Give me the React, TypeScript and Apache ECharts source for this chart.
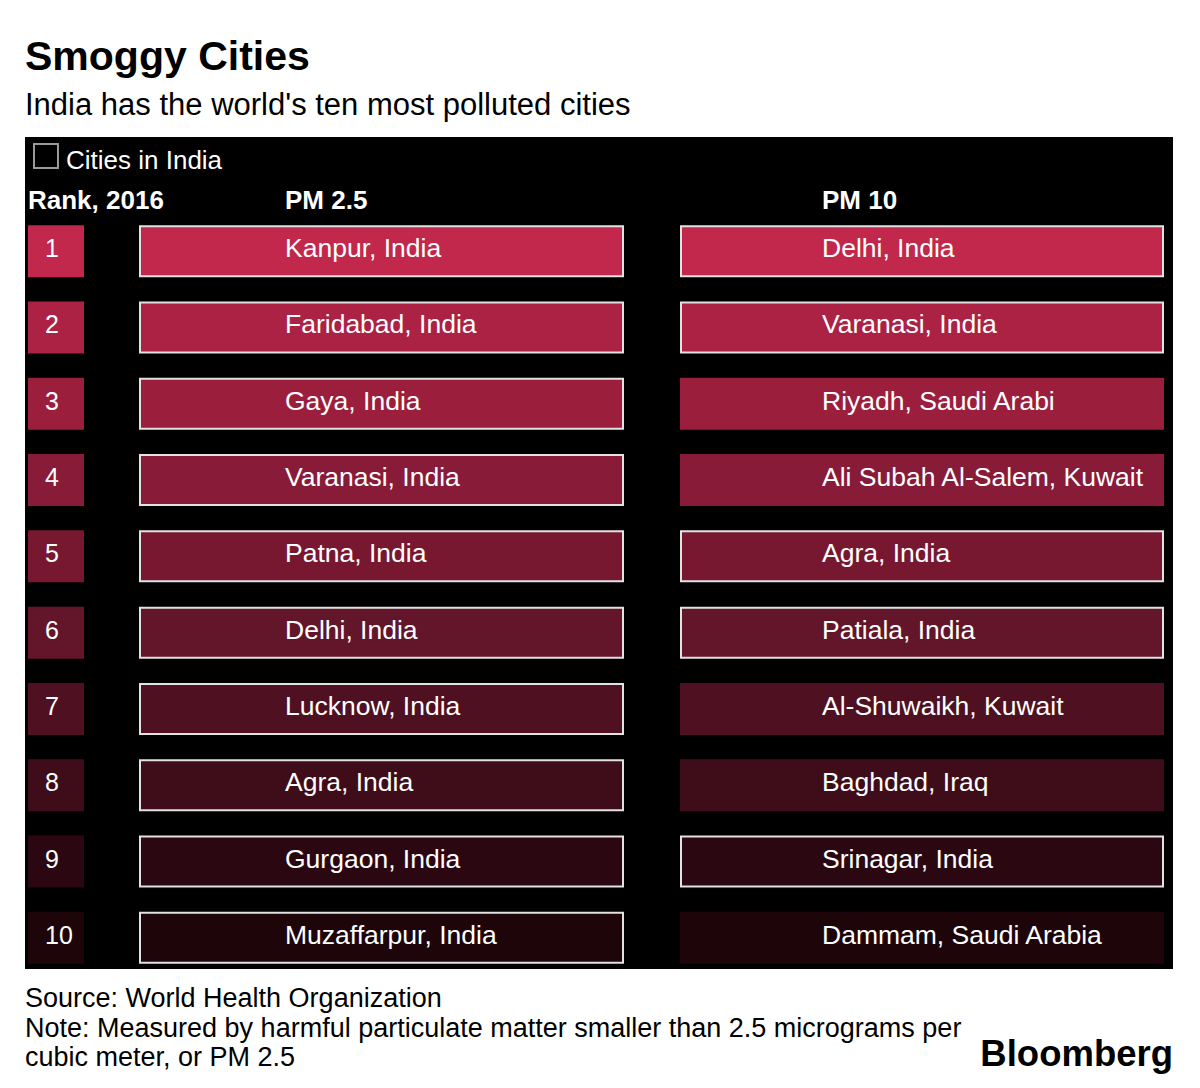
import React, { useEffect, useRef } from "react";
import * as echarts from "echarts";

const ranks = ["1", "2", "3", "4", "5", "6", "7", "8", "9", "10"];
const pm25Cities = [
  "Kanpur, India",
  "Faridabad, India",
  "Gaya, India",
  "Varanasi, India",
  "Patna, India",
  "Delhi, India",
  "Lucknow, India",
  "Agra, India",
  "Gurgaon, India",
  "Muzaffarpur, India",
];
const pm25InIndia = [true, true, true, true, true, true, true, true, true, true];
const pm10Cities = [
  "Delhi, India",
  "Varanasi, India",
  "Riyadh, Saudi Arabi",
  "Ali Subah Al-Salem, Kuwait",
  "Agra, India",
  "Patiala, India",
  "Al-Shuwaikh, Kuwait",
  "Baghdad, Iraq",
  "Srinagar, India",
  "Dammam, Saudi Arabia",
];
const pm10InIndia = [true, true, false, false, true, true, false, false, true, false];

const RANK_COLORS = [
  "#c1284c",
  "#ab2244",
  "#9b1e3d",
  "#881b37",
  "#781830",
  "#63152a",
  "#4f1121",
  "#3e0d19",
  "#2b0811",
  "#1d050a",
];

const FONT = "'Liberation Sans', Arial, Helvetica, sans-serif";

export default function App() {
  const ref = useRef<HTMLDivElement>(null);
  useEffect(() => {
    document.body.style.margin = "0";
    const chart = echarts.init(ref.current!, undefined, { renderer: "svg" });

    const gridTop = 213;
    const gridHeight = 763;
    const grids = [
      { left: 28, width: 56, top: gridTop, height: gridHeight },
      { left: 139, width: 485, top: gridTop, height: gridHeight },
      { left: 680, width: 484, top: gridTop, height: gridHeight },
    ];

    const makeSeries = (
      idx: number,
      labels: string[],
      bordered: boolean[] | null,
      labelX: number,
      fontSize: number
    ) => ({
      type: "bar",
      xAxisIndex: idx,
      yAxisIndex: idx,
      barWidth: 52,
      silent: true,
      z: 3,
      data: labels.map((lab, i) => ({
        value: 1,
        name: lab,
        itemStyle: {
          color: RANK_COLORS[i],
          borderColor: bordered && bordered[i] ? "#e2e2e2" : "transparent",
          borderWidth: bordered && bordered[i] ? 2 : 0,
        },
      })),
      label: {
        show: true,
        position: [labelX, 23],
        align: "left",
        verticalAlign: "middle",
        color: "#ffffff",
        fontFamily: FONT,
        fontSize,
        formatter: (p: any) => p.name,
      },
    });

    const txt = (
      x: number,
      y: number,
      text: string,
      font: string,
      fill: string,
      extra: any = {}
    ) => ({
      type: "text",
      z: 5,
      x,
      y,
      style: { text, font, fill, verticalAlign: "middle", ...extra },
    });

    chart.setOption({
      animation: false,
      backgroundColor: "#ffffff",
      grid: grids,
      xAxis: grids.map((_, i) => ({
        type: "value",
        gridIndex: i,
        min: 0,
        max: 1,
        show: false,
      })),
      yAxis: grids.map((_, i) => ({
        type: "category",
        gridIndex: i,
        data: ranks,
        inverse: true,
        show: false,
      })),
      series: [
        makeSeries(0, ranks, null, 17, 25),
        makeSeries(1, pm25Cities, pm25InIndia, 146, 26.5),
        makeSeries(2, pm10Cities, pm10InIndia, 142, 26.5),
      ],
      graphic: [
        {
          type: "rect",
          z: -10,
          shape: { x: 25, y: 137, width: 1148, height: 832 },
          style: { fill: "#000000" },
          silent: true,
        },
        txt(25, 56, "Smoggy Cities", `bold 41px ${FONT}`, "#000000"),
        txt(25, 104, "India has the world's ten most polluted cities", `31px ${FONT}`, "#000000"),
        {
          type: "rect",
          z: 5,
          shape: { x: 34, y: 144, width: 24, height: 24 },
          style: { fill: "#000000", stroke: "#9a9a9a", lineWidth: 2 },
        },
        txt(66, 160, "Cities in India", `26px ${FONT}`, "#ffffff"),
        txt(28, 200, "Rank, 2016", `bold 26px ${FONT}`, "#ffffff"),
        txt(285, 200, "PM 2.5", `bold 26px ${FONT}`, "#ffffff"),
        txt(822, 200, "PM 10", `bold 26px ${FONT}`, "#ffffff"),
        txt(25, 998, "Source: World Health Organization", `27px ${FONT}`, "#000000"),
        txt(
          25,
          1028,
          "Note: Measured by harmful particulate matter smaller than 2.5 micrograms per",
          `27px ${FONT}`,
          "#000000"
        ),
        txt(25, 1057, "cubic meter, or PM 2.5", `27px ${FONT}`, "#000000"),
        txt(1173, 1053, "Bloomberg", `bold 36.5px ${FONT}`, "#000000", { align: "right" }),
      ],
    });
    return () => chart.dispose();
  }, []);
  return <div ref={ref} style={{ width: 1200, height: 1088 }} />;
}
